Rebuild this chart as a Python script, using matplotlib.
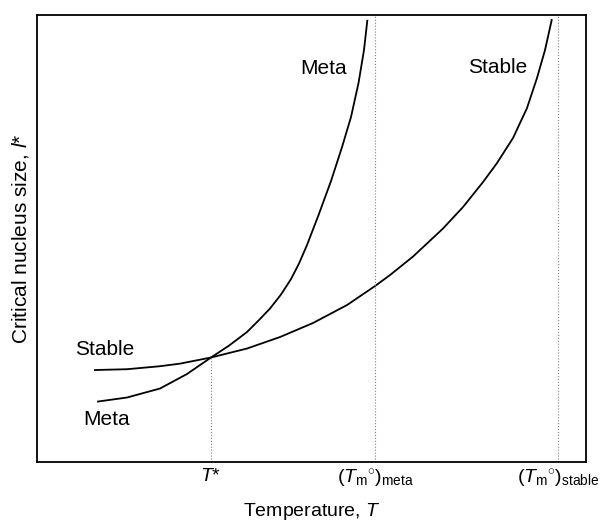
import matplotlib.pyplot as plt

plt.rcParams['font.family'] = ['Liberation Sans', 'DejaVu Sans']
plt.rcParams['mathtext.fontset'] = 'custom'
plt.rcParams['mathtext.rm'] = 'Liberation Sans'
plt.rcParams['mathtext.it'] = 'Liberation Sans:italic'

# curve points (axes fractions)
meta_x = [0.1111, 0.1639, 0.2240, 0.2732, 0.3169, 0.3497, 0.3825, 0.4044, 0.4244,
          0.4444, 0.4627, 0.4772, 0.4918, 0.5128, 0.5355, 0.5556, 0.5719, 0.5856,
          0.5956, 0.6016]
meta_y = [0.1353, 0.1443, 0.1644, 0.1969, 0.2338, 0.2604, 0.2908, 0.3177, 0.3434,
          0.3747, 0.4094, 0.4441, 0.4855, 0.5526, 0.6286, 0.7047, 0.7718, 0.8479,
          0.9217, 0.9873]
stable_x = [0.1056, 0.1639, 0.2240, 0.2605, 0.3169, 0.3825, 0.4426, 0.5027, 0.5647,
            0.6157, 0.6430, 0.6849, 0.7395, 0.7760, 0.8124, 0.8379, 0.8670, 0.8925,
            0.9107, 0.9253, 0.9375]
stable_y = [0.2058, 0.2076, 0.2143, 0.2201, 0.2338, 0.2539, 0.2796, 0.3110, 0.3512,
            0.3937, 0.4183, 0.4597, 0.5224, 0.5705, 0.6264, 0.6689, 0.7248, 0.7919,
            0.8591, 0.9217, 0.9888]

t_star = 0.3169
t_star_y = 0.2338
tm_meta = 0.6157
tm_stable = 0.9495
tick_pos = [t_star, tm_meta, tm_stable]
tick_labels = [r'$T$*', r'$(T_\mathrm{m}{}^{\circ})_\mathrm{meta}$',
               r'$(T_\mathrm{m}{}^{\circ})_\mathrm{stable}$']

fig = plt.figure(figsize=(6, 5.24), dpi=100)
ax = fig.add_axes([0.0617, 0.1183, 0.915, 0.853])

ax.plot(meta_x, meta_y, color='black', lw=1.3, solid_joinstyle='round')
ax.plot(stable_x, stable_y, color='black', lw=1.3, solid_joinstyle='round')

# dotted guides
ax.plot([t_star, t_star], [0, t_star_y], color='gray', lw=0.8, ls=':')
ax.axvline(tm_meta, color='gray', lw=0.8, ls=':')
ax.axvline(tm_stable, color='gray', lw=0.8, ls=':')

ax.text(0.5228, 0.8814, 'Meta', fontsize=15, ha='center', va='center')
ax.text(0.8392, 0.8821, 'Stable', fontsize=15, ha='center', va='center')
ax.text(0.1239, 0.2506, 'Stable', fontsize=15, ha='center', va='center')
ax.text(0.1269, 0.094, 'Meta', fontsize=15, ha='center', va='center')

ax.set_xlim(0, 1)
ax.set_ylim(0, 1)
ax.set_xticks(tick_pos)
ax.set_xticklabels(tick_labels, fontsize=14)
ax.tick_params(axis='x', length=0, pad=4)
ax.set_yticks([])
for s in ax.spines.values():
    s.set_linewidth(1.3)

ax.set_xlabel(r'Temperature, $T$', fontsize=14, labelpad=8)
ax.set_ylabel(r'Critical nucleus size, $l$*', fontsize=15, labelpad=4)

fig.savefig('out.png', dpi=100)
